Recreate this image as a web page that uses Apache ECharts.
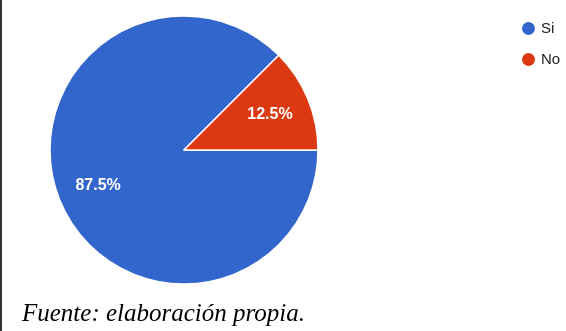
<!DOCTYPE html>
<html>
<head>
<meta charset="utf-8">
<script src="https://cdn.jsdelivr.net/npm/echarts@6/dist/echarts.min.js"></script>
<style>
  html, body { margin: 0; padding: 0; background: #fff; }
  #main { width: 566px; height: 331px; }
</style>
</head>
<body>
<div id="main"></div>
<script>
// datos del gráfico
const categorias = ['Si', 'No'];
const valores = [87.5, 12.5];
const colores = ['#3366cc', '#dc3912'];
const fuente = 'Fuente: elaboración propia.';

const datos = categorias.map((c, i) => ({ name: c, value: valores[i] }));

var myChart = echarts.init(document.getElementById('main'));

var option = {
  animation: false,
  color: colores,
  title: {
    text: fuente,
    left: 17,
    top: 297,
    textStyle: {
      fontFamily: 'Liberation Serif',
      fontStyle: 'italic',
      fontWeight: 'normal',
      fontSize: 25,
      color: '#000'
    }
  },
  legend: {
    data: categorias,
    orient: 'vertical',
    left: 515,
    top: 15,
    icon: 'circle',
    itemWidth: 15,
    itemHeight: 15,
    itemGap: 14,
    textStyle: { fontFamily: 'Arial, Liberation Sans', fontSize: 15, color: '#222' }
  },
  graphic: [
    { type: 'rect', shape: { x: 0, y: 0, width: 2, height: 331 }, style: { fill: '#333' } }
  ],
  series: [
    {
      // porciones
      type: 'pie',
      center: [184, 150],
      radius: 134,
      startAngle: 0,
      clockwise: true,
      label: { show: false },
      labelLine: { show: false },
      itemStyle: { borderColor: '#fff', borderWidth: 1.5 },
      emphasis: { disabled: true },
      data: datos
    },
    {
      // capa solo para las etiquetas de porcentaje
      type: 'pie',
      center: [184, 150],
      radius: [46, 134],
      startAngle: 0,
      clockwise: true,
      silent: true,
      legendHoverLink: false,
      itemStyle: { color: 'rgba(0,0,0,0)' },
      label: {
        show: true,
        position: 'inside',
        formatter: p => p.value.toFixed(1) + '%',
        color: '#fff',
        fontFamily: 'Arial, Liberation Sans',
        fontWeight: 'bold',
        fontSize: 16
      },
      labelLine: { show: false },
      emphasis: { disabled: true },
      data: datos
    }
  ]
};

myChart.setOption(option);
</script>
</body>
</html>
